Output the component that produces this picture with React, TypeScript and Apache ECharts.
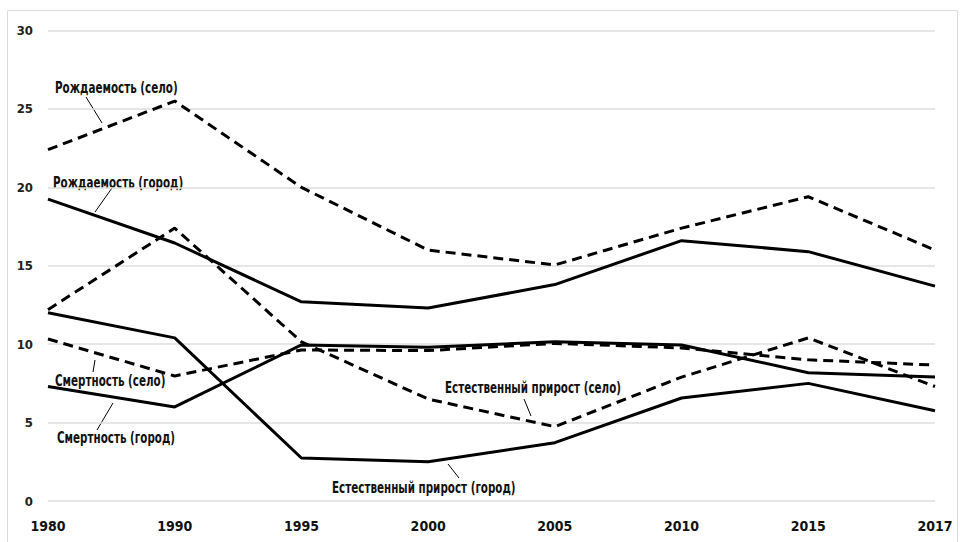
import React, { useEffect, useRef } from "react";
import * as echarts from "echarts";

const years = ["1980", "1990", "1995", "2000", "2005", "2010", "2015", "2017"];
const birthRural = [22.4, 25.5, 20.0, 16.0, 15.05, 17.4, 19.4, 16.0];
const birthUrban = [19.25, 16.45, 12.7, 12.3, 13.8, 16.6, 15.9, 13.7];
const growthRural = [12.2, 17.4, 10.15, 6.5, 4.74, 7.9, 10.4, 7.3];
const growthUrban = [12.0, 10.4, 2.74, 2.5, 3.72, 6.57, 7.5, 5.76];
const deathRural = [10.33, 7.97, 9.63, 9.59, 10.05, 9.76, 9.0, 8.67];
const deathUrban = [7.3, 6.0, 9.95, 9.8, 10.16, 9.95, 8.18, 7.9];

const FONT = "'Liberation Sans Narrow', 'DejaVu Sans Condensed', 'Roboto', sans-serif";

const annotations = [
  { text: "Рождаемость (село)", x: 55, y: 87, l: [86, 97, 102, 123] },
  { text: "Рождаемость (город)", x: 53, y: 182, l: [112, 188, 95, 212] },
  { text: "Смертность (село)", x: 55, y: 380, l: [95, 360, 93, 372] },
  { text: "Смертность (город)", x: 57, y: 437, l: [113, 403, 97, 430] },
  { text: "Естественный прирост (село)", x: 445, y: 387, l: [524, 399, 531, 416] },
  { text: "Естественный прирост (город)", x: 332, y: 487, l: [448, 464, 459, 478] },
];

export default function App() {
  const ref = useRef<HTMLDivElement>(null);
  useEffect(() => {
    if (!ref.current) return;
    const chart = echarts.init(ref.current, undefined, { renderer: "svg" });
    const mk = (name: string, data: number[], dashed: boolean) => ({
      name,
      type: "line",
      data,
      symbol: "none",
      lineStyle: { color: "#000", width: 3, type: dashed ? [10, 6] : "solid" },
      z: 3,
    });
    const graphics: any[] = [
      {
        type: "rect",
        shape: { x: 7.5, y: 10.5, width: 950, height: 540 },
        style: { fill: "none", stroke: "#dcdcdc", lineWidth: 1 },
        silent: true,
      },
    ];
    annotations.forEach((a) => {
      graphics.push({
        type: "text",
        x: a.x,
        y: a.y,
        scaleX: 0.72,
        style: {
          text: a.text,
          font: `bold 16px ${FONT}`,
          fill: "#111",
          align: "left",
          verticalAlign: "middle",
        },
      });
      graphics.push({
        type: "line",
        shape: { x1: a.l[0], y1: a.l[1], x2: a.l[2], y2: a.l[3] },
        style: { stroke: "#000", lineWidth: 1 },
      });
    });
    chart.setOption({
      animation: false,
      backgroundColor: "#fff",
      grid: { left: 48, right: 25, top: 30.5, bottom: 41, containLabel: false },
      xAxis: {
        type: "category",
        data: years,
        boundaryGap: false,
        axisLine: { show: false },
        axisTick: { show: false },
        axisLabel: {
          color: "#111",
          fontFamily: FONT,
          fontWeight: "bold",
          fontSize: 14,
          margin: 18,
          interval: 0,
        },
      },
      yAxis: {
        type: "value",
        min: 0,
        max: 30,
        interval: 5,
        axisLine: { show: false },
        axisTick: { show: false },
        splitLine: { lineStyle: { color: "#dedede", width: 1.5 } },
        axisLabel: {
          color: "#222",
          fontFamily: FONT,
          fontWeight: "bold",
          fontSize: 13,
          margin: 15,
        },
      },
      series: [
        mk("Рождаемость (село)", birthRural, true),
        mk("Рождаемость (город)", birthUrban, false),
        mk("Естественный прирост (село)", growthRural, true),
        mk("Естественный прирост (город)", growthUrban, false),
        mk("Смертность (село)", deathRural, true),
        mk("Смертность (город)", deathUrban, false),
      ],
      graphic: graphics,
    });
    return () => chart.dispose();
  }, []);
  return (
    <div
      ref={ref}
      style={{ position: "fixed", left: 0, top: 0, width: 960, height: 542, background: "#fff" }}
    />
  );
}
